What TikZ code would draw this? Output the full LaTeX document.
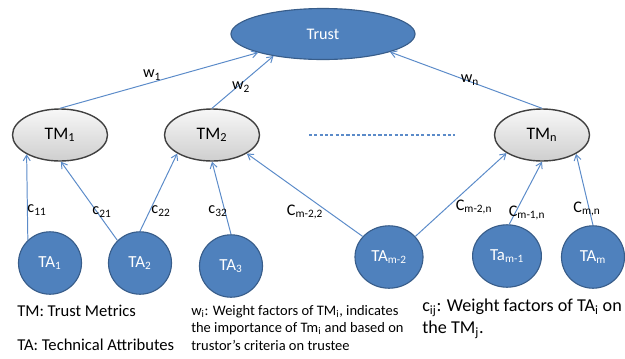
\documentclass[tikz,border=0pt]{standalone}
\usepackage{fontspec}
\setmainfont{Carlito}
\usetikzlibrary{shapes.geometric,arrows.meta}
\definecolor{tablue}{HTML}{4F81BD}
\definecolor{tabluedark}{HTML}{385D8A}
\definecolor{linkblue}{HTML}{5B8BC9}
\begin{document}
\begin{tikzpicture}[x=0.025cm,y=-0.025cm,>={Straight Barb[length=4pt,width=5pt]},
  trustnode/.style={ellipse,draw=tabluedark,fill=tablue,text=white,line width=0.8pt,
    minimum width=4.6cm,minimum height=1.275cm,inner sep=0pt,font=\fontsize{11.5}{13}\selectfont},
  metric/.style={ellipse,draw=black!75,line width=1pt,top color=gray!6,bottom color=gray!38,
    minimum width=2.375cm,minimum height=1.3cm,inner sep=0pt,font=\fontsize{12.5}{14}\selectfont},
  attr/.style={ellipse,draw=tabluedark,fill=tablue,text=white,line width=0.8pt,
    minimum width=#1,minimum height=1.56cm,inner sep=0pt,font=\fontsize{12}{14}\selectfont},
  attr/.default=1.575cm,
  link/.style={draw=linkblue,line width=0.7pt,->},
  weight/.style={font=\fontsize{11.5}{13}\selectfont,inner sep=1pt}]
\useasboundingbox (0,0) rectangle (625,358);
% top
\node[trustnode] (trust) at (323,34) {Trust};
% trust metrics
\node[metric] (tm1) at (60,135) {TM\textsubscript{1}};
\node[metric] (tm2) at (212,135) {TM\textsubscript{2}};
\node[metric] (tmn) at (542,135) {TM\textsubscript{n}};
\coordinate (dotsl) at (309,135);
\coordinate (dotsr) at (455,135);
\draw[linkblue,line width=0.8pt,dash pattern=on 2.2pt off 1.6pt] (dotsl) -- (dotsr);
% technical attributes
\node[attr] (ta1) at (50,263) {TA\textsubscript{1}};
\node[attr] (ta2) at (140,263) {TA\textsubscript{2}};
\node[attr] (ta3) at (231,266) {TA\textsubscript{3}};
\node[attr=1.7cm] (tam2) at (389,257) {TA\textsubscript{m-2}};
\node[attr=1.72cm] (tam1) at (507,256) {Ta\textsubscript{m-1}};
\node[attr] (tam) at (593,257) {TA\textsubscript{m}};
% weights w
\draw[link] (tm1.north) -- (trust.196);
\draw[link] (tm2.north) -- (trust.204);
\draw[link] (tmn.north) -- (trust.345);
\node[weight] (w1) at (152,75) {w\textsubscript{1}};
\node[weight] (w2) at (241,87) {w\textsubscript{2}};
\node[weight] (wn) at (470,80) {w\textsubscript{n}};
% weights c
\draw[link] (ta1.134) -- (tm1.210);
\draw[link] (ta2.135) -- (tm1.272);
\draw[link] (ta2.north) -- (tm2.208);
\draw[link] (ta3.north) -- (tm2.south);
\draw[link] (tam2.142) -- (tm2.332);
\draw[link] (tam2.38) -- (tmn.207);
\draw[link] (tam1.86) -- (tmn.south);
\draw[link] (tam.north) -- (tmn.331);
\node[weight] (c11) at (37,210) {c\textsubscript{11}};
\node[weight] (c21) at (102,212) {c\textsubscript{21}};
\node[weight] (c22) at (161,211) {c\textsubscript{22}};
\node[weight] (c32) at (218,211) {c\textsubscript{32}};
\node[weight] (cm22) at (305,212) {C\textsubscript{m-2,2}};
\node[weight] (cm2n) at (474,207) {C\textsubscript{m-2,n}};
\node[weight] (cm1n) at (527,213) {C\textsubscript{m-1,n}};
\node[weight] (cmn) at (587,209) {C\textsubscript{m,n}};
% legend
\node[anchor=west,inner sep=0pt,font=\fontsize{11.8}{14}\selectfont] (tmkey) at (17,311) {TM: Trust Metrics};
\node[anchor=west,inner sep=0pt,font=\fontsize{11.8}{14}\selectfont] (takey) at (17,345) {TA: Technical Attributes};
\node[anchor=north west,align=left,inner sep=0pt,font=\fontsize{10.3}{12.4}\selectfont] (wkey) at (191,305)
  {w\textsubscript{i}: Weight factors of TM\textsubscript{i}, indicates\\the importance of Tm\textsubscript{i} and based on\\trustor’s criteria on trustee};
\node[anchor=north west,align=left,inner sep=0pt,font=\fontsize{12.9}{15.6}\selectfont] (ckey) at (422,299)
  {c\textsubscript{ij}: Weight factors of TA\textsubscript{i} on\\the TM\textsubscript{j}.};
\end{tikzpicture}
\end{document}
